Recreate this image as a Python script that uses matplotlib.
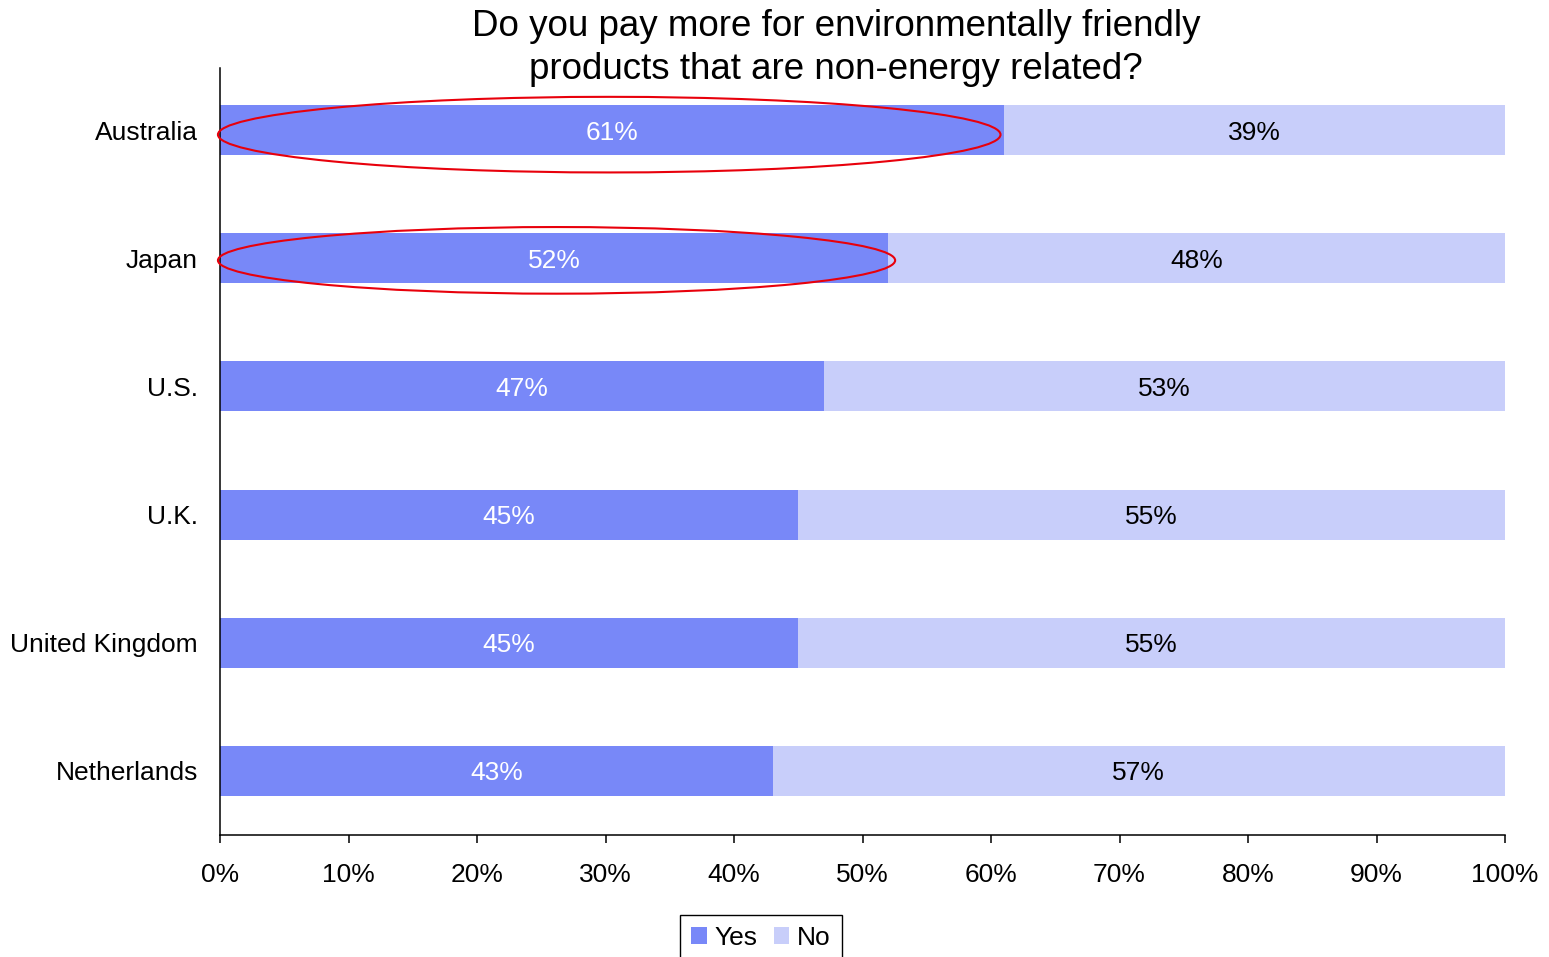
import numpy as np
import matplotlib.pyplot as plt
from matplotlib.patches import Ellipse

plt.rcParams['font.family'] = ['Liberation Sans', 'DejaVu Sans']

countries = ['Australia', 'Japan', 'U.S.', 'U.K.', 'United Kingdom', 'Netherlands']
yes = [61, 52, 47, 45, 45, 43]
no = [39, 48, 53, 55, 55, 57]
xticks = [0, 10, 20, 30, 40, 50, 60, 70, 80, 90, 100]

yes_color = '#7888F8'
no_color = '#C8CEFA'

fig = plt.figure(figsize=(15.49, 9.57), dpi=100)
ax = fig.add_axes([220 / 1549, 1 - 835 / 957, 1285 / 1549, 767 / 957])

y = np.arange(len(countries))
ax.barh(y, yes, height=0.39, color=yes_color, label='Yes')
ax.barh(y, no, left=yes, height=0.39, color=no_color, label='No')

for i in range(len(countries)):
    ax.text(yes[i] / 2, y[i], f'{yes[i]}%', ha='center', va='center_baseline',
            color='white', fontsize=19)
    ax.text(yes[i] + no[i] / 2, y[i], f'{no[i]}%', ha='center', va='center_baseline',
            color='black', fontsize=19)

# red rings around the two countries where most people say yes
rings = [(0, 60.9, 0.59, 0.035), (1, 52.7, 0.52, 0.016)]
for i, w, h, dy in rings:
    e = Ellipse((w / 2 - 0.16, y[i] + dy), width=w, height=h, fill=False,
                edgecolor='#E8000B', linewidth=1.5, clip_on=False, zorder=5)
    ax.add_patch(e)

ax.set_xlim(0, 100)
ax.set_ylim(5.5, -0.485)
ax.set_yticks(y)
ax.set_yticklabels(countries, fontsize=19)
ax.set_xticks(xticks)
ax.set_xticklabels([f'{t}%' for t in xticks], fontsize=19)
ax.tick_params(axis='y', length=0, pad=16)
ax.tick_params(axis='x', length=6, width=1.1, direction='out', pad=14)

for side in ['top', 'right']:
    ax.spines[side].set_visible(False)
for side in ['left', 'bottom']:
    ax.spines[side].set_linewidth(1.1)

fig.text(836 / 1549, 1 - 48 / 957,
         'Do you pay more for environmentally friendly\nproducts that are non-energy related?',
         ha='center', va='center', fontsize=26.5, linespacing=1.32)

fig.legend(loc='upper center', bbox_to_anchor=(761 / 1549, 1 - 915 / 957),
           ncol=2, fontsize=19, frameon=True, fancybox=False, edgecolor='black',
           handlelength=0.6, handleheight=0.6, handletextpad=0.3,
           columnspacing=0.6, borderpad=0.4, borderaxespad=0, framealpha=1)

fig.savefig('out.png', dpi=100)
